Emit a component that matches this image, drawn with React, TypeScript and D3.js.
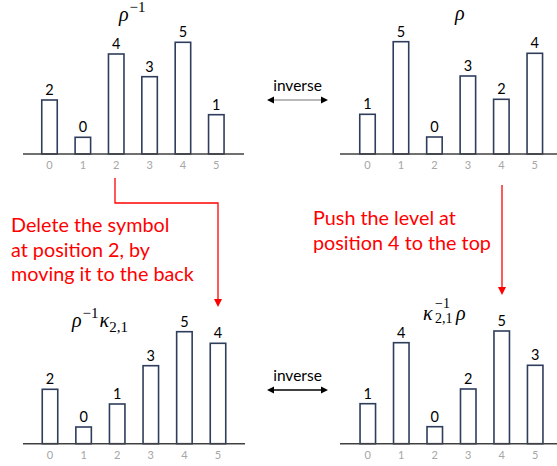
import React from 'react';
import * as d3 from 'd3';

const positions = [0, 1, 2, 3, 4, 5];
const rhoInvLevels = [2, 0, 4, 3, 5, 1];
const rhoInvHeights = [54, 16.7, 100, 77.3, 111.7, 39.3];
const rhoLevels = [1, 5, 0, 3, 2, 4];
const rhoHeights = [39.7, 112.3, 17, 78, 54.7, 100.7];
const rhoInvKappaLevels = [2, 0, 1, 3, 5, 4];
const rhoInvKappaHeights = [54.4, 16.7, 39.7, 78, 112, 100.4];
const kappaInvRhoLevels = [1, 4, 0, 2, 5, 3];
const kappaInvRhoHeights = [40, 101, 17, 54.7, 112.7, 78.4];
const arrowLabel = 'inverse';
const leftNote = ['Delete the symbol', 'at position 2, by', 'moving it to the back'];
const rightNote = ['Push the level at', 'position 4 to the top'];

const SANS = 'Lato, Carlito, "Open Sans", sans-serif';
const SERIF = '"Liberation Serif", "DejaVu Serif", serif';
const BAR = '#2f3d5c';
const RED = '#ff0000';

type PanelProps = {
  levels: number[];
  heights: number[];
  axis: [number, number];
  centers: [number, number];
  baseline: number;
};

function Panel({ levels, heights, axis, centers, baseline }: PanelProps) {
  const x = d3.scalePoint<number>().domain(positions).range(centers);
  const y = d3.scaleLinear().domain([0, 120]).range([baseline, baseline - 120]);
  const bw = 15.5;
  return (
    <g>
      {positions.map((p, i) => (
        <g key={p}>
          <rect
            x={(x(p) as number) - bw / 2}
            y={y(heights[i])}
            width={bw}
            height={baseline - y(heights[i])}
            fill="#fff"
            stroke={BAR}
            strokeWidth={1.6}
          />
          <text
            x={x(p) as number}
            y={y(heights[i]) - 5}
            textAnchor="middle"
            fontFamily={SANS}
            fontSize={14.5}
            fill="#000"
          >
            {levels[i]}
          </text>
          <text
            x={x(p) as number}
            y={baseline + 15}
            textAnchor="middle"
            fontFamily={SANS}
            fontSize={11}
            fill="#a6a6a6"
          >
            {p}
          </text>
        </g>
      ))}
      <line x1={axis[0]} x2={axis[1]} y1={baseline} y2={baseline} stroke="#404040" strokeWidth={1.5} />
    </g>
  );
}

function DoubleArrow({ x0, x1, y, color, label }: { x0: number; x1: number; y: number; color: string; label: string }) {
  const head = d3.path();
  head.moveTo(x0, y);
  head.lineTo(x0 + 7, y - 3.5);
  head.lineTo(x0 + 7, y + 3.5);
  head.closePath();
  head.moveTo(x1, y);
  head.lineTo(x1 - 7, y - 3.5);
  head.lineTo(x1 - 7, y + 3.5);
  head.closePath();
  return (
    <g>
      <text x={(x0 + x1) / 2} y={y - 9} textAnchor="middle" fontFamily={SANS} fontSize={15.5} fill="#000">
        {label}
      </text>
      <line x1={x0 + 4} x2={x1 - 4} y1={y} y2={y} stroke={color} strokeWidth={1.5} />
      <path d={head.toString()} fill="#000" />
    </g>
  );
}

function RedArrow({ pts }: { pts: [number, number][] }) {
  const line = d3.line();
  const [tx, ty] = pts[pts.length - 1];
  const shaft = pts.slice(0, -1).concat([[tx, ty - 5]]) as [number, number][];
  const head = d3.path();
  head.moveTo(tx, ty);
  head.lineTo(tx - 4, ty - 8);
  head.lineTo(tx + 4, ty - 8);
  head.closePath();
  return (
    <g>
      <path d={line(shaft) || ''} fill="none" stroke={RED} strokeWidth={1.3} />
      <path d={head.toString()} fill={RED} />
    </g>
  );
}

export default function App() {
  return (
    <svg
      width={557}
      height={466}
      viewBox="0 0 557 466"
      style={{ position: 'absolute', left: 0, top: 0, background: '#fff' }}
    >
      <rect width={557} height={466} fill="#fff" />
      <Panel levels={rhoInvLevels} heights={rhoInvHeights} axis={[23, 244]} centers={[49.5, 216.3]} baseline={154} />
      <Panel levels={rhoLevels} heights={rhoHeights} axis={[340, 557]} centers={[367.5, 534.8]} baseline={154} />
      <Panel levels={rhoInvKappaLevels} heights={rhoInvKappaHeights} axis={[23, 245]} centers={[50, 218]} baseline={443.7} />
      <Panel levels={kappaInvRhoLevels} heights={kappaInvRhoHeights} axis={[340, 557]} centers={[367.8, 535.2]} baseline={443.7} />

      {/* titles */}
      <text x={119} y={21} fontFamily={SERIF} fontSize={20} fill="#000">
        <tspan fontStyle="italic">ρ</tspan>
        <tspan fontSize={15} dy={-9} dx={1}>−1</tspan>
      </text>
      <text x={455} y={20} fontFamily={SERIF} fontSize={20} fontStyle="italic" fill="#000">
        ρ
      </text>
      <text x={72} y={327} fontFamily={SERIF} fontSize={20} fill="#000">
        <tspan fontStyle="italic">ρ</tspan>
        <tspan fontSize={15} dy={-9} dx={1}>−1</tspan>
        <tspan fontStyle="italic" dy={9} dx={1}>κ</tspan>
        <tspan fontSize={15} dy={5}>2,1</tspan>
      </text>
      <text x={423} y={320} fontFamily={SERIF} fontSize={20} fill="#000">
        <tspan fontStyle="italic">κ</tspan>
        <tspan x={435} fontSize={14} dy={-12}>−1</tspan>
        <tspan x={435} fontSize={14} dy={15}>2,1</tspan>
        <tspan x={456} fontStyle="italic" dy={-3}>ρ</tspan>
      </text>

      <DoubleArrow x0={267} x1={328} y={100} color="#a0a0a0" label={arrowLabel} />
      <DoubleArrow x0={267} x1={328} y={390} color="#000" label={arrowLabel} />

      <RedArrow pts={[[115, 178], [115, 203], [218, 203], [218, 307]]} />
      <RedArrow pts={[[502, 185], [502, 295]]} />

      <text fontFamily={SANS} fontSize={19.8} fill={RED}>
        {leftNote.map((t, i) => (
          <tspan key={i} x={11} y={232.3 + i * 24.4}>
            {t}
          </tspan>
        ))}
      </text>
      <text fontFamily={SANS} fontSize={19.8} fill={RED}>
        {rightNote.map((t, i) => (
          <tspan key={i} x={313} y={225 + i * 25}>
            {t}
          </tspan>
        ))}
      </text>
    </svg>
  );
}
